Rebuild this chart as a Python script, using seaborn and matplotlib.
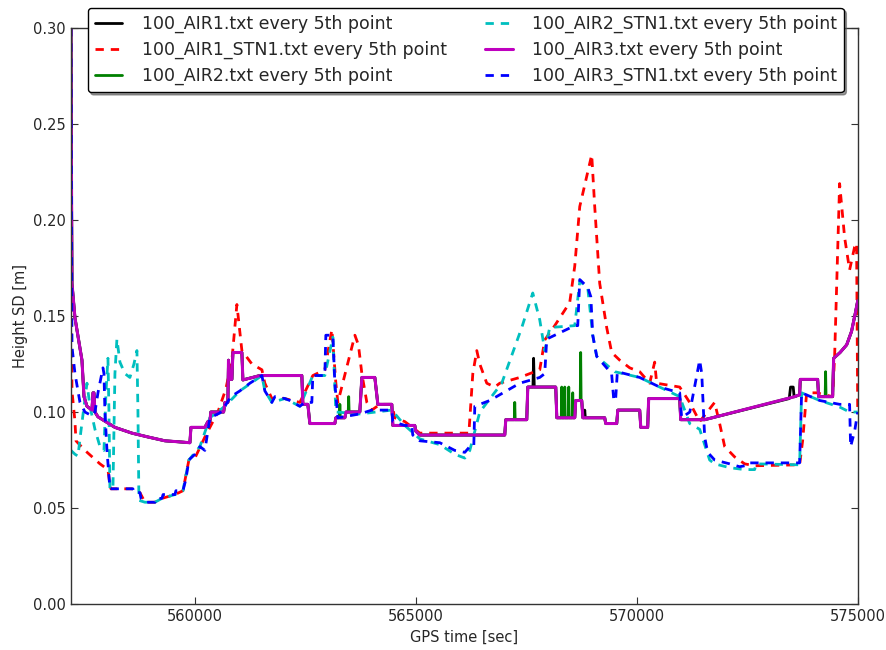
import matplotlib
matplotlib.use("Agg")
import matplotlib.pyplot as plt
import seaborn as sns
import pandas as pd

# ---------------- data (GPS time [s], Height SD [m]) ----------------
# common trajectory of the three AIR solutions (AIR3 drawn on top)
air_t = [557195, 557205, 557218, 557286, 557444, 557490, 557557, 557670, 557693, 557715,
         557738, 557806, 558190, 558575, 558937, 559322, 559620, 559887, 559910, 560226,
         560294, 560339, 560360, 560650, 560680, 560746, 560760, 560790, 560837, 560860,
         561063, 561086, 561470, 562420, 562443, 562556, 562601, 563167, 563190, 563393,
         563420, 563732, 563778, 564072, 564140, 564456, 564479, 564976, 565000, 565090,
         567012, 567035, 567510, 567533, 568166, 568190, 568596, 568618, 568754, 568780,
         569274, 569297, 569546, 569570, 570066, 570090, 570247, 570269, 570971, 570994,
         571536, 573572, 573685, 573700, 574093, 574115, 574432, 574455, 574600, 574750,
         574860, 574950, 575000]
air_y = [0.300, 0.230, 0.167, 0.149, 0.127, 0.108, 0.103, 0.101, 0.110, 0.110,
         0.100, 0.0975, 0.092, 0.089, 0.087, 0.085, 0.0845, 0.084, 0.092, 0.092,
         0.095, 0.095, 0.100, 0.100, 0.105, 0.105, 0.127, 0.117, 0.117, 0.131,
         0.131, 0.1167, 0.119, 0.119, 0.104, 0.104, 0.094, 0.094, 0.097, 0.097,
         0.100, 0.100, 0.118, 0.118, 0.104, 0.104, 0.093, 0.093, 0.090, 0.088,
         0.088, 0.096, 0.096, 0.113, 0.113, 0.097, 0.097, 0.106, 0.106, 0.097,
         0.097, 0.094, 0.094, 0.101, 0.101, 0.092, 0.092, 0.107, 0.107, 0.096,
         0.096, 0.108, 0.109, 0.117, 0.117, 0.108, 0.108, 0.128, 0.131, 0.135,
         0.142, 0.152, 0.158]

# short excursions of AIR1 and AIR2 that stick out above AIR3
air1_spike_t = [567650, 567665, 567680, 568810, 568822, 568835,
                573450, 573480, 573540, 573560]
air1_spike_y = [0.113, 0.128, 0.113, 0.097, 0.101, 0.097,
                0.107, 0.113, 0.113, 0.108]
air2_spike_t = [563270, 563280, 563290, 563470, 563480, 563490,
                567228, 567238, 567248, 568291, 568301, 568311,
                568360, 568370, 568380, 568450, 568460, 568470,
                568540, 568550, 568560, 568720, 568730, 568740,
                574263, 574273, 574283]
air2_spike_y = [0.097, 0.104, 0.097, 0.100, 0.108, 0.100,
                0.096, 0.105, 0.096, 0.097, 0.113, 0.097,
                0.097, 0.113, 0.097, 0.097, 0.113, 0.097,
                0.097, 0.110, 0.097, 0.106, 0.131, 0.106,
                0.108, 0.121, 0.108]

stn1_t = [557195, 557208, 557218, 557286, 557308, 557512, 557851, 558032, 558077, 558100,
          558597, 558756, 558869, 559095, 559254, 559548, 559729, 559864, 560000, 560226,
          560520, 560700, 560837, 560950, 561063, 561290, 561516, 561583, 561742, 562036,
          562375, 562669, 562940, 563100, 563190, 563235, 563400, 563620, 563700, 563778,
          563891, 564004, 564185, 564456, 564524, 564750, 565090, 566200, 566289, 566379,
          566447, 566605, 566786, 566899, 567352, 567804, 567917, 568143, 568482, 568596,
          568709, 568980, 569048, 569161, 569319, 569432, 569614, 569840, 570066, 570292,
          570405, 570450, 570971, 571197, 571423, 571762, 571875, 571989, 572215, 572441,
          572667, 573685, 573753, 573844, 574070, 574432, 574477, 574590, 574703, 574816,
          574929, 574974, 575000]
stn1_y = [0.300, 0.150, 0.111, 0.095, 0.085, 0.080, 0.073, 0.070, 0.062, 0.060,
          0.060, 0.058, 0.053, 0.053, 0.055, 0.057, 0.059, 0.075, 0.076, 0.087,
          0.100, 0.112, 0.127, 0.156, 0.132, 0.125, 0.122, 0.115, 0.107, 0.107,
          0.105, 0.119, 0.122, 0.143, 0.115, 0.105, 0.120, 0.140, 0.135, 0.120,
          0.105, 0.101, 0.104, 0.104, 0.097, 0.095, 0.089, 0.089, 0.120, 0.132,
          0.125, 0.115, 0.113, 0.115, 0.118, 0.122, 0.1375, 0.145, 0.157, 0.176,
          0.207, 0.234, 0.207, 0.167, 0.144, 0.131, 0.127, 0.123, 0.121, 0.115,
          0.126, 0.115, 0.113, 0.105, 0.095, 0.105, 0.094, 0.082, 0.0766, 0.073,
          0.072, 0.0725, 0.085, 0.110, 0.110, 0.108, 0.129, 0.219, 0.191, 0.174,
          0.186, 0.188, 0.100]

stn2_t = [557195, 557286, 557353, 557420, 557557, 557625, 557738, 557851, 557942, 557987,
          558032, 558055, 558077, 558145, 558190, 558235, 558303, 558416, 558529, 558620,
          558688, 558711, 558733, 558869, 559095, 559254, 559548, 559729, 559864, 560113,
          560339, 560679, 561018, 561516, 561583, 561742, 562036, 562375, 562669, 562940,
          563122, 563190, 563732, 564456, 564750, 565090, 565542, 565881, 566108, 566221,
          566447, 566944, 567397, 567646, 567804, 567917, 568030, 568596, 568709, 568889,
          569003, 569093, 569500, 570066, 570518, 570971, 571197, 571423, 571649, 571762,
          572102, 572441, 572667, 572700, 573685, 573730, 574138, 574590, 574816, 575000]
stn2_y = [0.080, 0.078, 0.077, 0.090, 0.115, 0.103, 0.091, 0.082, 0.080, 0.110,
          0.128, 0.100, 0.060, 0.060, 0.120, 0.138, 0.126, 0.120, 0.118, 0.125,
          0.132, 0.100, 0.054, 0.053, 0.053, 0.055, 0.057, 0.059, 0.075, 0.082,
          0.097, 0.103, 0.111, 0.119, 0.111, 0.105, 0.107, 0.103, 0.119, 0.119,
          0.139, 0.100, 0.099, 0.101, 0.093, 0.086, 0.083, 0.078, 0.076, 0.080,
          0.100, 0.115, 0.144, 0.162, 0.148, 0.132, 0.144, 0.145, 0.168, 0.165,
          0.140, 0.129, 0.121, 0.118, 0.113, 0.108, 0.094, 0.091, 0.075, 0.073,
          0.071, 0.070, 0.070, 0.073, 0.0725, 0.110, 0.106, 0.1026, 0.100, 0.100]

stn3_t = [557195, 557210, 557218, 557286, 557399, 557512, 557670, 557738, 557806, 557919,
          557942, 557964, 558010, 558077, 558597, 558620, 558756, 558780, 558869, 559095,
          559120, 559254, 559280, 559548, 559570, 559729, 559796, 559864, 560000, 560113,
          560226, 560339, 560566, 560679, 560814, 561018, 561244, 561516, 561583, 561742,
          561810, 562036, 562149, 562375, 562488, 562646, 562669, 562940, 562963, 563122,
          563167, 563235, 563732, 564004, 564456, 564479, 564750, 564909, 564930, 565090,
          565542, 565881, 566108, 566221, 566311, 566334, 566673, 567352, 567804, 567917,
          567962, 568596, 568664, 568709, 568889, 568960, 569003, 569093, 569430, 569480,
          569520, 569560, 570066, 570518, 570971, 571016, 571200, 571423, 571470, 571536,
          571604, 571762, 572102, 572328, 572441, 572500, 573685, 573730, 574138, 574590,
          574816, 574839, 574930, 575000]
stn3_y = [0.300, 0.180, 0.134, 0.120, 0.105, 0.100, 0.098, 0.100, 0.110, 0.123,
          0.120, 0.100, 0.080, 0.060, 0.060, 0.058, 0.058, 0.055, 0.053, 0.053,
          0.055, 0.055, 0.057, 0.057, 0.059, 0.059, 0.065, 0.075, 0.078, 0.082,
          0.080, 0.097, 0.0995, 0.103, 0.108, 0.111, 0.115, 0.119, 0.111, 0.105,
          0.108, 0.107, 0.106, 0.103, 0.105, 0.105, 0.119, 0.119, 0.140, 0.140,
          0.115, 0.097, 0.099, 0.101, 0.101, 0.095, 0.093, 0.093, 0.088, 0.085,
          0.084, 0.080, 0.079, 0.082, 0.082, 0.103, 0.106, 0.115, 0.118, 0.120,
          0.138, 0.145, 0.145, 0.169, 0.165, 0.160, 0.140, 0.129, 0.120, 0.106,
          0.106, 0.121, 0.118, 0.113, 0.110, 0.097, 0.100, 0.127, 0.120, 0.087,
          0.079, 0.075, 0.073, 0.0715, 0.072, 0.0735, 0.0735, 0.110, 0.106, 0.104,
          0.104, 0.082, 0.090, 0.100]

labels = ["100_AIR1.txt every 5th point", "100_AIR1_STN1.txt every 5th point",
          "100_AIR2.txt every 5th point", "100_AIR2_STN1.txt every 5th point",
          "100_AIR3.txt every 5th point", "100_AIR3_STN1.txt every 5th point"]
x_ticks = [560000, 565000, 570000, 575000]
y_ticks = [0.00, 0.05, 0.10, 0.15, 0.20, 0.25, 0.30]


def merged(base_t, base_y, extra_t, extra_y):
    df = pd.DataFrame({"t": list(base_t) + list(extra_t),
                       "y": list(base_y) + list(extra_y)})
    return df.sort_values("t", kind="stable").reset_index(drop=True)


series = [
    (merged(air_t, air_y, air1_spike_t, air1_spike_y), "black", None, 2.0),
    (pd.DataFrame({"t": stn1_t, "y": stn1_y}), "red", (3, 2.5), 2.0),
    (merged(air_t, air_y, air2_spike_t, air2_spike_y), "green", None, 2.0),
    (pd.DataFrame({"t": stn2_t, "y": stn2_y}), "#00bfbf", (3, 2.5), 2.0),
    (pd.DataFrame({"t": air_t, "y": air_y}), "#bf00bf", None, 2.2),
    (pd.DataFrame({"t": stn3_t, "y": stn3_y}), "blue", (3, 2.5), 2.0),
]

sns.set_style("ticks")
plt.rcParams['font.family'] = ['DejaVu Sans']
plt.rcParams['axes.edgecolor'] = '#333333'

fig = plt.figure(figsize=(8.87, 6.5), dpi=100)
ax = fig.add_axes([0.080, 0.0708, 0.887, 0.886])

for (df, color, dash, lw), lab in zip(series, labels):
    sns.lineplot(data=df, x="t", y="y", ax=ax, color=color, linewidth=lw,
                 sort=False, estimator=None, label=lab, legend=False)
    line = ax.lines[-1]
    if dash is not None:
        line.set_dashes(dash)

ax.set_xlim(557195, 575000)
ax.set_ylim(0, 0.30)
ax.set_xticks(x_ticks)
ax.set_xticklabels([str(v) for v in x_ticks])
ax.set_yticks(y_ticks)
ax.set_yticklabels([f"{v:.2f}" for v in y_ticks])
ax.tick_params(direction="in", top=True, right=True, labelsize=10.5, length=5,
               color='#333333')
ax.set_xlabel("GPS time [sec]", fontsize=10.5)
ax.set_ylabel("Height SD [m]", fontsize=10.5)
for s in ax.spines.values():
    s.set_linewidth(1.0)

handles = ax.lines[:6]
leg = ax.legend(handles, labels, loc="upper center", ncol=2,
                bbox_to_anchor=(0.525, 0.988), bbox_transform=fig.transFigure,
                fontsize=12.5, handlelength=1.6, handletextpad=1.1,
                labelspacing=0.45, columnspacing=2.2, borderpad=0.4,
                frameon=True, fancybox=True, borderaxespad=0,
                shadow={"color": "0.35", "alpha": 0.6, "ox": 2, "oy": -2})
leg.get_frame().set_edgecolor("black")
leg.get_frame().set_linewidth(1.0)
leg.get_frame().set_alpha(1.0)

fig.savefig("out.png", dpi=100)
